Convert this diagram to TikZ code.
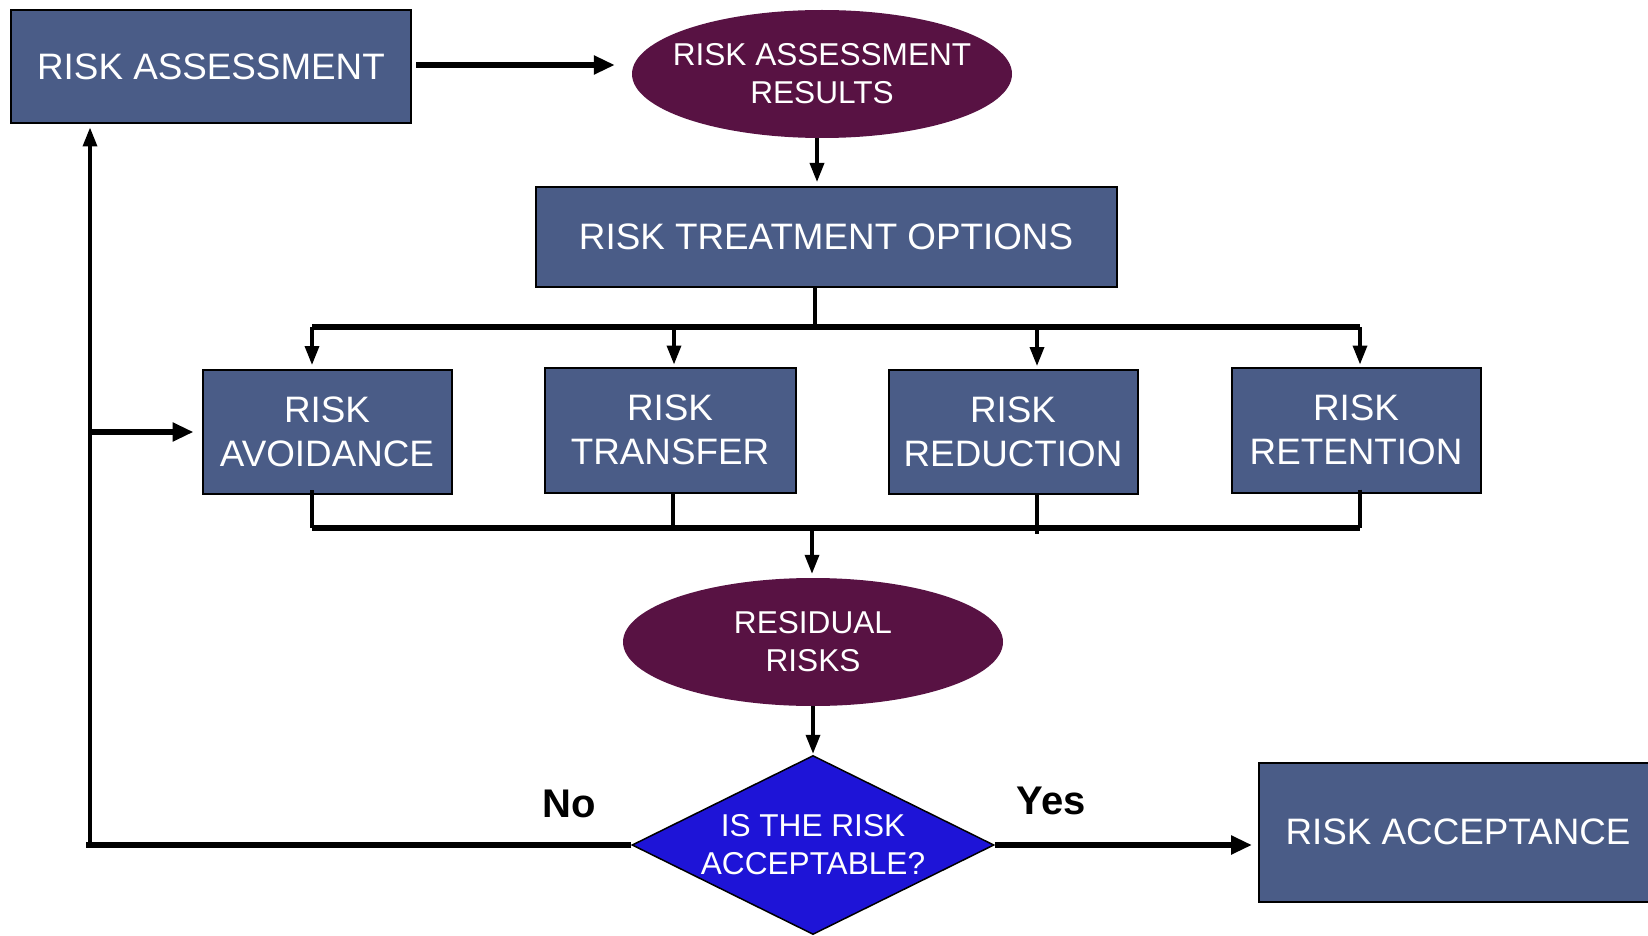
\documentclass[tikz,border=0pt]{standalone}
\usepackage{fontspec}
\setmainfont{Liberation Sans}
\usetikzlibrary{shapes.geometric,arrows.meta}
\definecolor{boxblue}{HTML}{4A5C87}
\definecolor{plum}{HTML}{581243}
\definecolor{dblue}{HTML}{1E14D7}
\begin{document}
\begin{tikzpicture}[x=1pt,y=-1pt,
  box/.style={draw=black, line width=2pt, fill=boxblue, text=white, inner sep=0pt,
    font=\fontsize{36.8}{44}\selectfont, align=center},
  oval/.style={ellipse, fill=plum, text=white, inner xsep=-20pt, inner ysep=0pt,
    minimum width=380pt, minimum height=128pt, font=\fontsize{31.6}{38}\selectfont, align=center},
  dec/.style={diamond, aspect=2, draw=black, line width=1.5pt, fill=dblue, text=white,
    inner sep=-2pt, minimum width=362pt, minimum height=179pt,
    font=\fontsize{31.6}{38}\selectfont, align=center},
  lab/.style={font=\bfseries\fontsize{40}{48}\selectfont, text=black},
  thinline/.style={line width=3.5pt},
  thickline/.style={line width=6pt},
  arr/.style={line width=3.5pt, -{Triangle[length=19pt,width=14pt]}},
  tarr/.style={line width=6pt, -{Triangle[length=21pt,width=18pt]}}
]
\useasboundingbox (0,0) rectangle (1648,936);
% nodes
\node[box, minimum width=400pt, minimum height=113pt] (ra) at (211,67) {RISK ASSESSMENT};
\node[oval] (rar) at (822,74) {RISK ASSESSMENT\\RESULTS};
\node[box, minimum width=581pt, minimum height=100pt] (rto) at (826,237) {RISK TREATMENT OPTIONS};
\node[box, minimum width=249pt, minimum height=124pt] (avo) at (327,432) {RISK\\AVOIDANCE};
\node[box, minimum width=251pt, minimum height=125pt] (tra) at (670,430) {RISK\\TRANSFER};
\node[box, minimum width=249pt, minimum height=124pt] (red) at (1013,432) {RISK\\REDUCTION};
\node[box, minimum width=249pt, minimum height=125pt] (ret) at (1356,430) {RISK\\RETENTION};
\node[oval] (resid) at (813,642) {RESIDUAL\\RISKS};
\node[dec] (dec) at (813,845) {IS THE RISK\\ACCEPTABLE?};
\node[box, minimum width=398pt, minimum height=139pt] (acc) at (1458,832) {RISK ACCEPTANCE};
\node[lab] (no) at (569,804) {No};
\node[lab] (yes) at (1051,801) {Yes};
% top connectors
\coordinate (rae) at ([yshift=2pt]ra.east);
\draw[tarr, shorten <=4pt, shorten >=17pt] (rae) -- (rae -| rar.west);
\coordinate (rarb) at ([xshift=-5pt]rar.south);
\draw[arr, shorten >=4pt] (rarb) -- (rarb |- rto.north);
% top bus
\coordinate (b0) at (815,327);
\coordinate (d1) at (312,327);
\coordinate (d2) at (674,327);
\coordinate (d3) at (1037,327);
\coordinate (d4) at (1360,327);
\draw[thinline] (rto.south -| b0) -- (b0);
\draw[thickline] (d1) -- (d4);
\draw[arr, shorten >=4pt] (d1) -- (d1 |- avo.north);
\draw[arr, shorten >=2pt] (d2) -- (d2 |- tra.north);
\draw[arr, shorten >=3pt] (d3) -- (d3 |- red.north);
\draw[arr, shorten >=2pt] (d4) -- (d4 |- ret.north);
% bottom bus
\coordinate (u1) at (312,528);
\coordinate (u2) at (673,528);
\coordinate (u3) at (1037,528);
\coordinate (u4) at (1360,528);
\draw[thickline] (u1) -- (u4);
\draw[thinline] ([yshift=5pt]u1 |- avo.south) -- (u1);
\draw[thinline] (u2 |- tra.south) -- (u2);
\draw[thinline] (u3 |- red.south) -- ([yshift=-6pt]u3);
\draw[thinline] ([yshift=4pt]u4 |- ret.south) -- (u4);
\coordinate (m) at (812,528);
\draw[arr, shorten >=4pt] (m) -- (m |- resid.north);
\draw[arr, shorten >=1pt] (resid.south) -- (dec.north);
% decision outputs
\coordinate (lc) at (86,845);
\draw[thickline] (dec.west) -- (lc);
\coordinate (lb) at (90,847);
\draw[arr, shorten >=3pt] (lb) -- (lb |- ra.south);
\coordinate (lm) at (90,432);
\draw[tarr, shorten >=8pt] (lm) -- (lm -| avo.west);
\draw[tarr, shorten >=6pt] (dec.east) -- (dec.east -| acc.west);
\end{tikzpicture}
\end{document}
